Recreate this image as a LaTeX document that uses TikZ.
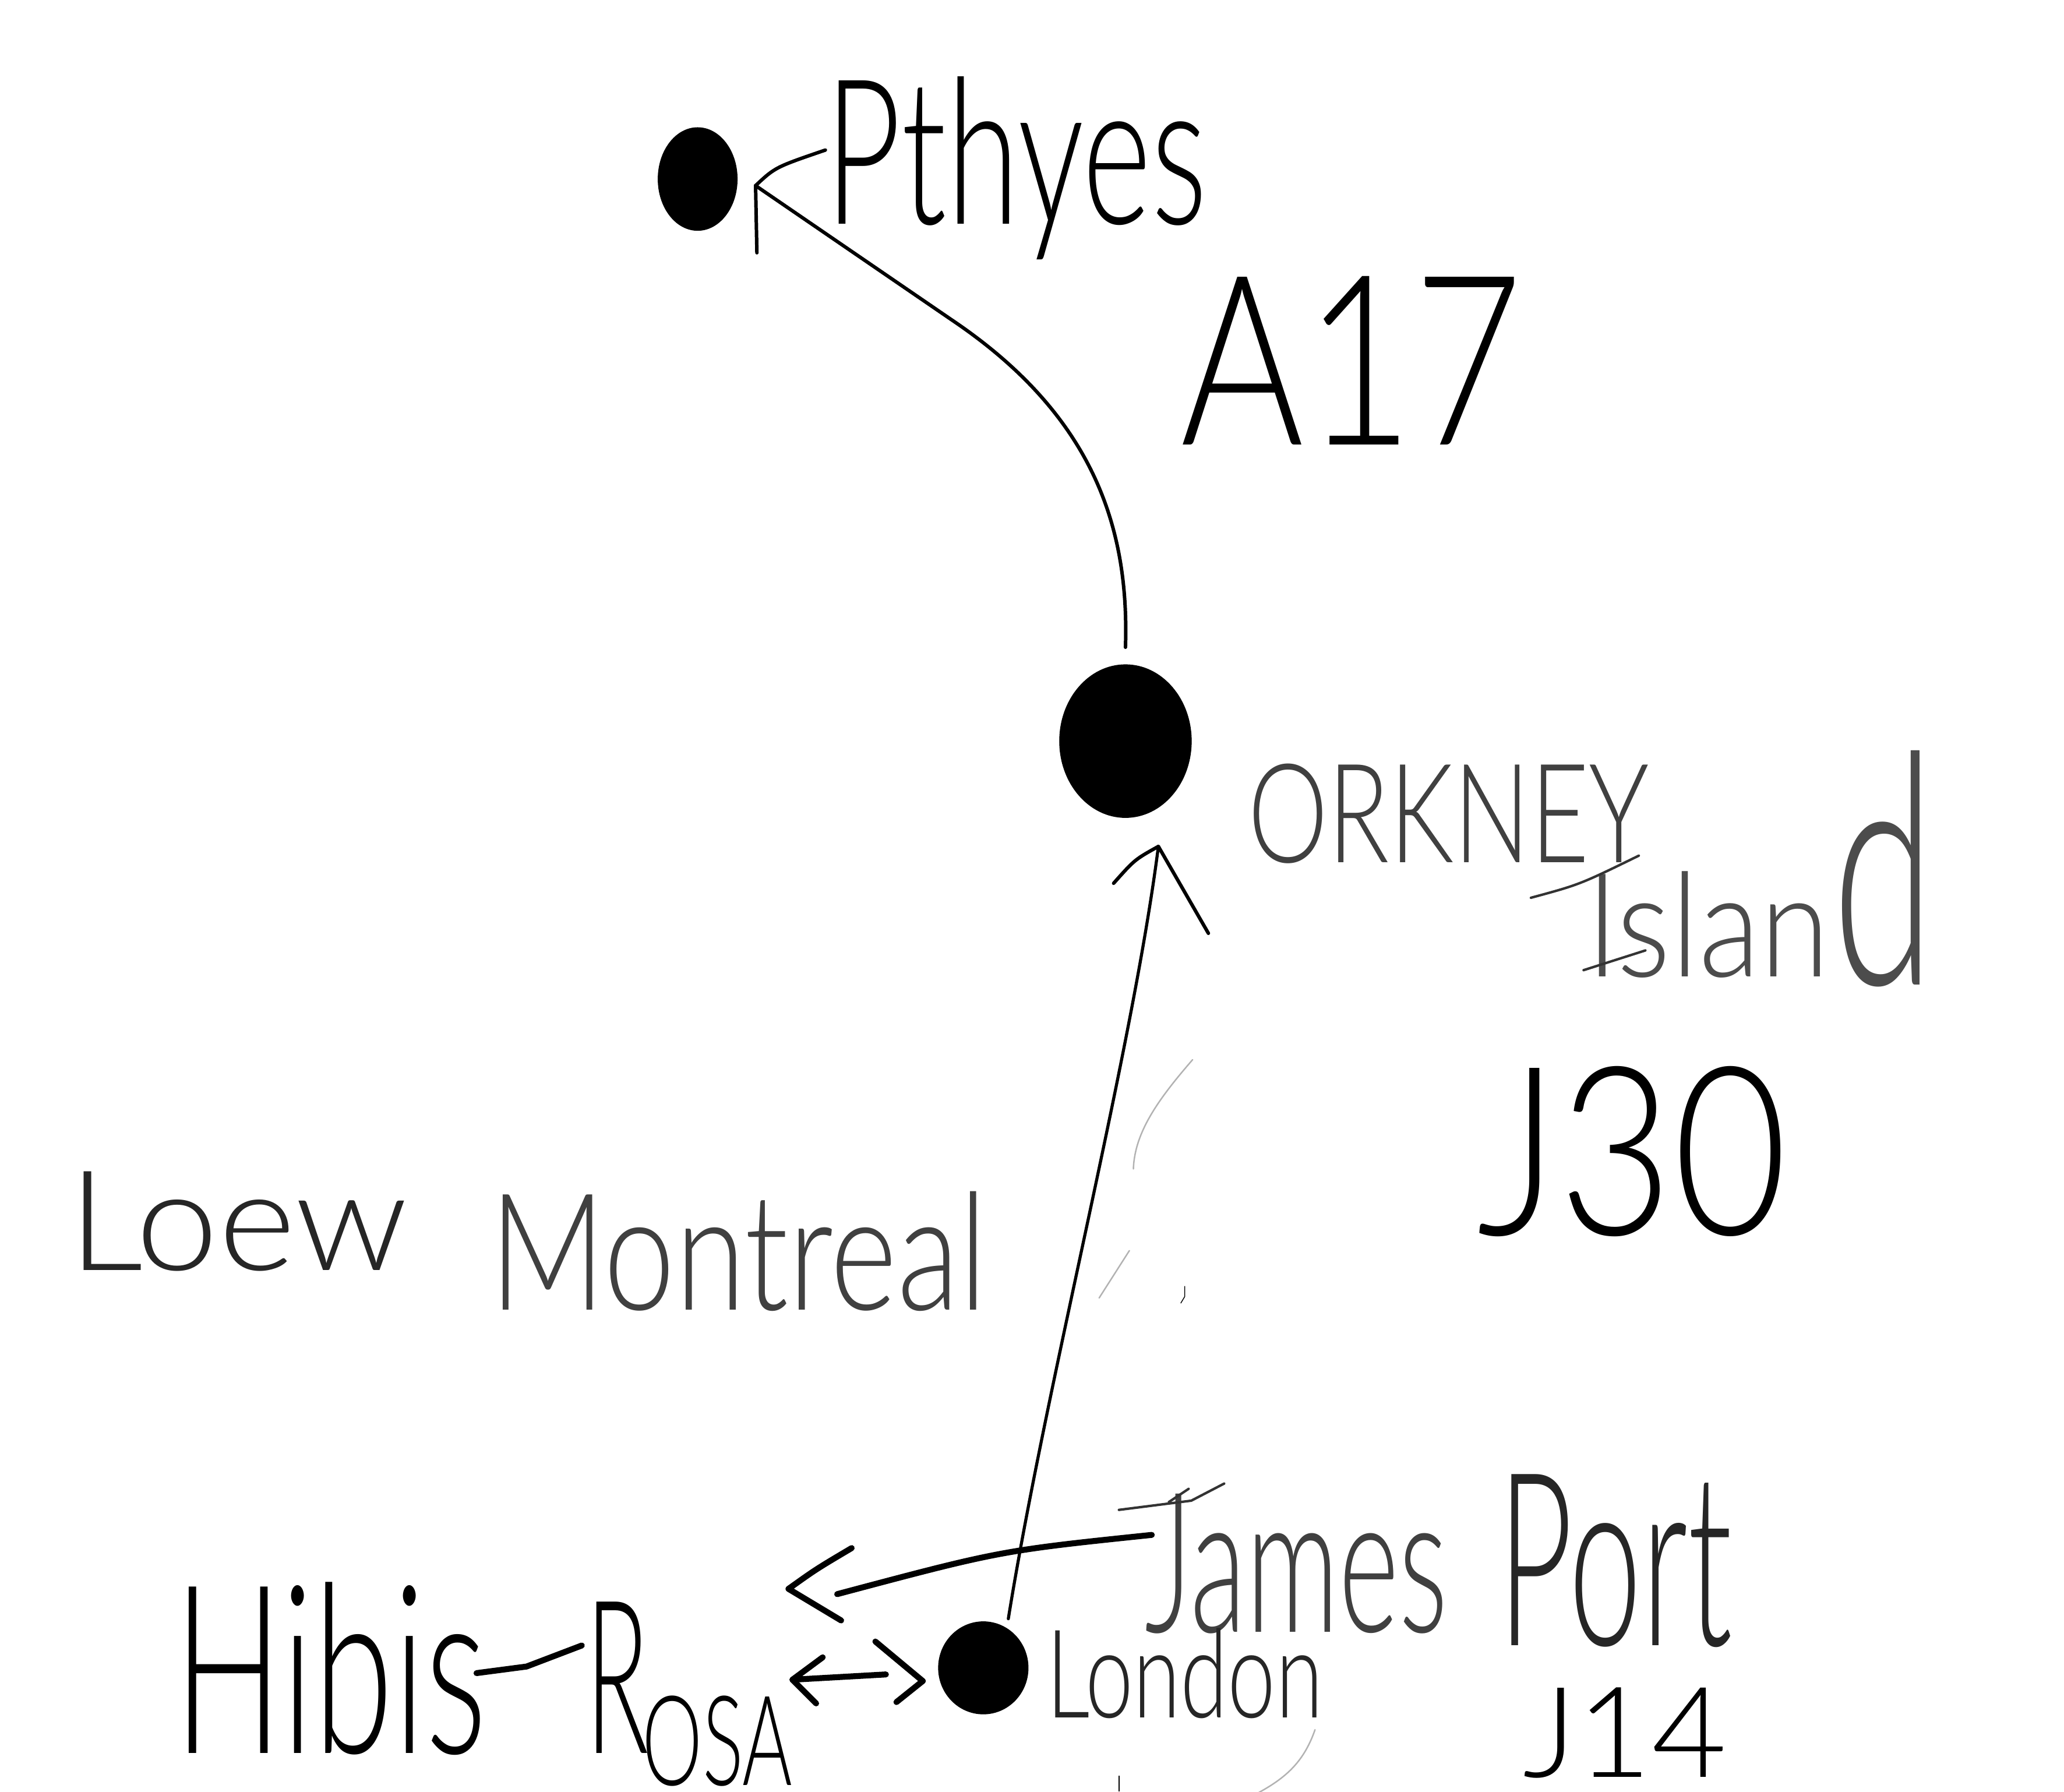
\documentclass[tikz,border=0pt]{standalone}
\usepackage{fontspec}
\usepackage{graphicx}
\usetikzlibrary{shapes.geometric}
\IfFontExistsTF{Lato-Light.ttf}{\newfontfamily\thinhand{Lato-Light.ttf}}{%
  \IfFontExistsTF{Lato Light}{\newfontfamily\thinhand{Lato Light}}{%
    \newfontfamily\thinhand{Liberation Sans}}}
\newlength\upx
\setlength\upx{0.022596cm}
\newcommand\sketchtext[3]{\resizebox{#1\upx}{#2\upx}{\fontsize{100pt}{100pt}\selectfont\thinhand #3}}
\tikzset{
  lbl/.style={anchor=base west, inner sep=0pt, outer sep=0pt},
  dotnode/.style={ellipse, fill=black, draw=black, inner sep=0pt},
  conn/.style={draw=black, line width=1.7pt, line cap=round, line join=round},
  heavy/.style={draw=black, line width=2.9pt, line cap=round, line join=round},
  faint/.style={draw=black!30, line width=0.7pt, line cap=round},
  pen/.style={draw=black!80, line width=1.2pt, line cap=round, line join=round}
}
\begin{document}
\begin{tikzpicture}[x=0.022596cm, y=-0.022596cm]
\useasboundingbox[fill=white] (0,0) rectangle (1568,1361);

% dots
\node[dotnode, minimum width=60\upx, minimum height=78\upx] (pth) at (530,136) {};
\node[dotnode, minimum width=100\upx, minimum height=116\upx] (ork) at (855,563) {};
\node[dotnode, minimum width=68\upx, minimum height=70\upx] (lon) at (747,1267) {};

% labels
\node[lbl, text=black] (pthL) at (627,170) {\sketchtext{290}{112}{Pthyes}};
\node[lbl, text=black] (a17) at (897,338) {\sketchtext{260}{128}{A17}};
\node[lbl, text=black!75] (orkL) at (948,655) {\sketchtext{305}{75}{ORKNEY}};
\node[lbl, text=black!70] (islL) at (1205,742) {\sketchtext{185}{80}{Islan}};
\node[lbl, text=black!70] (islD) at (1392,748) {\sketchtext{78}{178}{d}};
\node[lbl, text=black] (j30) at (1122,938) {\sketchtext{236}{128}{J30}};
\node[lbl, text=black!85] (loew) at (52,965) {\sketchtext{258}{75}{Loew}};
\node[lbl, text=black!75] (montreal) at (372,995) {\sketchtext{378}{90}{Montreal}};
\node[lbl, text=black!75] (james) at (870,1240) {\sketchtext{230}{105}{James}};
\node[lbl, text=black!85] (port) at (1138,1250) {\sketchtext{178}{130}{Port}};
\node[lbl, text=black!85] (londonL) at (795,1305) {\sketchtext{210}{68}{London}};
\node[lbl, text=black] (j14) at (1157,1350) {\sketchtext{155}{68}{J14}};
\node[lbl, text=black] (hibis) at (132,1332) {\sketchtext{238}{130}{Hibis}};
\node[lbl, text=black] (rosaR) at (445,1332) {\sketchtext{48}{115}{R}};
\node[lbl, text=black] (rosaO) at (488,1356) {\sketchtext{114}{68}{OSA}};

% extra strokes of the handwriting
\draw[heavy] (362,1271) -- (400,1266) -- (442,1250);
\draw[pen] (850,1147) -- (905,1140) -- (930,1127);
\draw[pen] (888,1141) -- (903,1131);
\draw[pen] (1163,682) .. controls (1200,672) .. (1245,650);
\draw[pen] (1203,737) -- (1250,722);

% connector Orkney -> Pthyes
\coordinate (ptip) at (574,141);
\draw[conn] ([yshift=13\upx]ork.north) .. controls (858,400) and (830,315) .. (723,243) -- (ptip);
\draw[conn] (ptip) .. controls (589,127) .. (627,114);
\draw[conn] (ptip) -- (575,192);

% connector London -> Orkney
\coordinate (otip) at (880,643);
\draw[conn, line width=1.5pt] ([xshift=19\upx,yshift=2\upx]lon.north) .. controls (795,1050) and (860,800) .. (otip);
\draw[conn] (otip) .. controls (862,653) .. (846,671);
\draw[conn] (otip) -- (918,709);

% connector James -> Hibis-Rosa
\coordinate (jtail) at (875,1166);
\coordinate (jtip) at (599,1207);
\draw[heavy] (jtail) .. controls (760,1178) .. (636,1211);
\draw[heavy] (jtip) .. controls (620,1192) .. (647,1176);
\draw[heavy] (jtip) -- (639,1231);

% double connector Rosa <-> London
\coordinate (rtip) at (602,1276);
\coordinate (ltip) at (701,1277);
\draw[heavy] (rtip) -- (673,1272);
\draw[heavy] (625,1259) -- (rtip) -- (620,1294);
\draw[heavy] (665,1247) -- (ltip) -- (681,1293);

% faint marks
\draw[faint] (906,805) .. controls (880,835) and (862,860) .. (861,888);
\draw[faint] (858,950) -- (835,986);
\draw[black, line width=0.4pt] (900,977) -- (900,985) -- (897,990);
\draw[faint] (999,1314) .. controls (990,1340) and (975,1352) .. (952,1364);
\draw[black, line width=0.6pt] (850,1349) -- (850,1361);
\end{tikzpicture}
\end{document}
